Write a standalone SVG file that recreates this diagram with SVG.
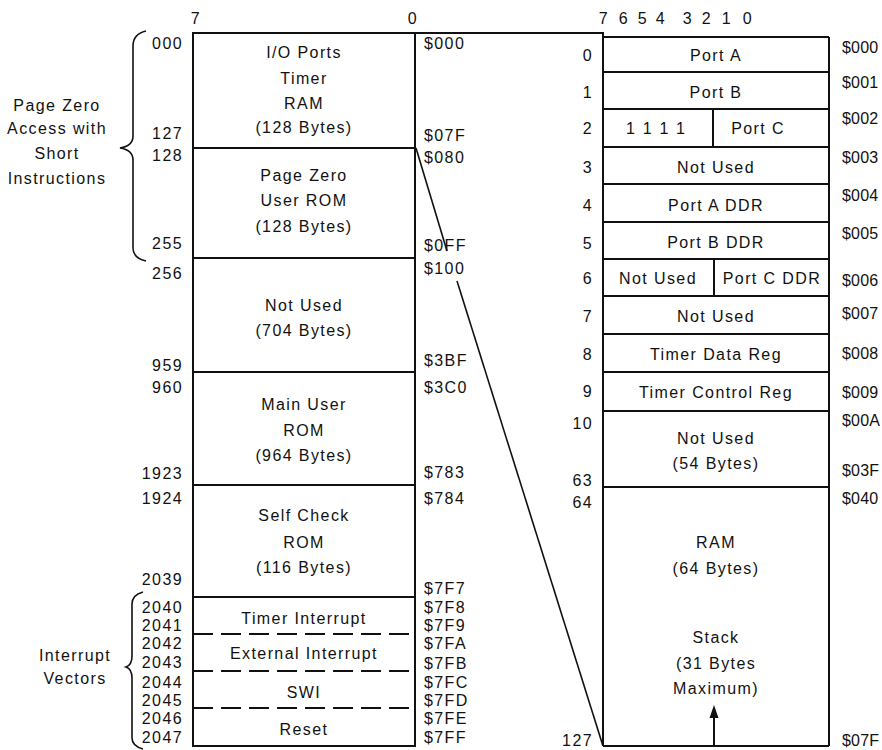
<svg xmlns="http://www.w3.org/2000/svg" width="882" height="750" viewBox="0 0 882 750">
<style>
text{font-family:"Liberation Sans",Arial,sans-serif;font-size:16px;letter-spacing:1.4px;fill:#111}
.c{text-anchor:middle}
.r{text-anchor:end}
.h{letter-spacing:0.2px}
.box{fill:#fff;stroke:#111;stroke-width:2}
.ln{stroke:#111;stroke-width:2;fill:none}
.thin{stroke:#111;stroke-width:1.6;fill:none}
.dash{stroke:#111;stroke-width:2;stroke-dasharray:20 8;fill:none}
</style>
<rect width="882" height="750" fill="#fff"/>

<!-- bit labels -->
<g id="bits">
<text x="196" y="24" class="c">7</text>
<text x="413" y="24" class="c">0</text>
<text x="604" y="24" class="c">7</text>
<text x="624" y="24" class="c">6</text>
<text x="643" y="24" class="c">5</text>
<text x="661" y="24" class="c">4</text>
<text x="688" y="24" class="c">3</text>
<text x="707" y="24" class="c">2</text>
<text x="727" y="24" class="c">1</text>
<text x="748" y="24" class="c">0</text>
</g>

<!-- connectors -->
<g id="connectors">
<line class="ln" x1="193" y1="33" x2="604" y2="33"/>
<line class="thin" x1="416" y1="148" x2="447" y2="251"/>
<line class="thin" x1="457" y1="281" x2="603" y2="746"/>
</g>

<!-- left memory map -->
<g id="left-map">
<rect class="box" x="193" y="33" width="222" height="713"/>
<line class="ln" x1="193" y1="148" x2="415" y2="148"/>
<line class="ln" x1="193" y1="258" x2="415" y2="258"/>
<line class="ln" x1="193" y1="372" x2="415" y2="372"/>
<line class="ln" x1="193" y1="485" x2="415" y2="485"/>
<line class="ln" x1="193" y1="597" x2="415" y2="597"/>
<line class="dash" x1="193" y1="634" x2="415" y2="634"/>
<line class="dash" x1="193" y1="671" x2="415" y2="671"/>
<line class="dash" x1="193" y1="708" x2="415" y2="708"/>
</g>
<g id="io-timer-ram">
<text x="304" y="58" class="c">I/O Ports</text>
<text x="304" y="84" class="c">Timer</text>
<text x="304" y="109" class="c">RAM</text>
<text x="304" y="133" class="c">(128 Bytes)</text>
</g>
<g id="page-zero-rom">
<text x="304" y="181" class="c">Page Zero</text>
<text x="304" y="206" class="c">User ROM</text>
<text x="304" y="232" class="c">(128 Bytes)</text>
</g>
<g id="not-used-704">
<text x="304" y="311" class="c">Not Used</text>
<text x="304" y="336" class="c">(704 Bytes)</text>
</g>
<g id="main-user-rom">
<text x="304" y="410" class="c">Main User</text>
<text x="304" y="436" class="c">ROM</text>
<text x="304" y="461" class="c">(964 Bytes)</text>
</g>
<g id="self-check-rom">
<text x="304" y="521" class="c">Self Check</text>
<text x="304" y="548" class="c">ROM</text>
<text x="304" y="573" class="c">(116 Bytes)</text>
</g>
<g id="vec-timer"><text x="304" y="624" class="c">Timer Interrupt</text></g>
<g id="vec-external"><text x="304" y="659" class="c">External Interrupt</text></g>
<g id="vec-swi"><text x="304" y="698" class="c">SWI</text></g>
<g id="vec-reset"><text x="304" y="735" class="c">Reset</text></g>

<!-- left decimal addresses -->
<g id="left-dec">
<text x="183" y="49" class="r">000</text>
<text x="183" y="139" class="r">127</text>
<text x="183" y="161" class="r">128</text>
<text x="183" y="249" class="r">255</text>
<text x="183" y="279" class="r">256</text>
<text x="183" y="371" class="r">959</text>
<text x="183" y="393" class="r">960</text>
<text x="183" y="479" class="r">1923</text>
<text x="183" y="504" class="r">1924</text>
<text x="183" y="585" class="r">2039</text>
<text x="183" y="613" class="r">2040</text>
<text x="183" y="631" class="r">2041</text>
<text x="183" y="649" class="r">2042</text>
<text x="183" y="668" class="r">2043</text>
<text x="183" y="688" class="r">2044</text>
<text x="183" y="706" class="r">2045</text>
<text x="183" y="724" class="r">2046</text>
<text x="183" y="743" class="r">2047</text>
</g>
<!-- left hex addresses -->
<g id="left-hex">
<text x="424" y="49">$000</text>
<text x="424" y="141">$07F</text>
<text x="424" y="163">$080</text>
<text x="424" y="251">$0FF</text>
<text x="424" y="274">$100</text>
<text x="424" y="366">$3BF</text>
<text x="424" y="393">$3C0</text>
<text x="424" y="478">$783</text>
<text x="424" y="504">$784</text>
<text x="424" y="594">$7F7</text>
<text x="424" y="613">$7F8</text>
<text x="424" y="631">$7F9</text>
<text x="424" y="649">$7FA</text>
<text x="424" y="669">$7FB</text>
<text x="424" y="688">$7FC</text>
<text x="424" y="706">$7FD</text>
<text x="424" y="724">$7FE</text>
<text x="424" y="743">$7FF</text>
</g>

<!-- braces -->
<g id="brace-page-zero">
<path class="thin" d="M146,31 Q133,34 133,46 L133,136 Q133,146 120,148 Q133,150 133,160 L133,248 Q133,258 146,261"/>
<text x="57" y="111" class="c">Page Zero</text>
<text x="57" y="134" class="c">Access with</text>
<text x="57" y="159" class="c">Short</text>
<text x="57" y="184" class="c">Instructions</text>
</g>
<g id="brace-vectors">
<path class="thin" d="M143,592 Q132,595 132,604 L132,656 Q132,665 126,667 Q132,669 132,678 L132,738 Q132,746 143,749"/>
<text x="75" y="661" class="c">Interrupt</text>
<text x="75" y="684" class="c">Vectors</text>
</g>

<!-- right register map -->
<g id="right-map">
<line class="ln" x1="603" y1="33" x2="603" y2="746"/>
<line class="ln" x1="603" y1="37" x2="829" y2="37"/>
<line class="ln" x1="829" y1="37" x2="829" y2="746"/>
<line class="ln" x1="603" y1="746" x2="829" y2="746"/>
<line class="ln" x1="603" y1="72" x2="829" y2="72"/>
<line class="ln" x1="603" y1="109" x2="829" y2="109"/>
<line class="ln" x1="603" y1="147" x2="829" y2="147"/>
<line class="ln" x1="603" y1="184" x2="829" y2="184"/>
<line class="ln" x1="603" y1="222" x2="829" y2="222"/>
<line class="ln" x1="603" y1="259" x2="829" y2="259"/>
<line class="ln" x1="603" y1="296" x2="829" y2="296"/>
<line class="ln" x1="603" y1="334" x2="829" y2="334"/>
<line class="ln" x1="603" y1="372" x2="829" y2="372"/>
<line class="ln" x1="603" y1="411" x2="829" y2="411"/>
<line class="ln" x1="603" y1="487" x2="829" y2="487"/>
<line class="ln" x1="713" y1="109" x2="713" y2="147"/>
<line class="ln" x1="714" y1="259" x2="714" y2="296"/>
</g>
<g id="port-a"><text x="716" y="61" class="c">Port A</text></g>
<g id="port-b"><text x="716" y="98" class="c">Port B</text></g>
<g id="port-c"><text x="660" y="134" class="c" style="letter-spacing:9px">1111</text><text x="758" y="134" class="c">Port C</text></g>
<g id="not-used-3"><text x="716" y="173" class="c">Not Used</text></g>
<g id="port-a-ddr"><text x="716" y="211" class="c">Port A DDR</text></g>
<g id="port-b-ddr"><text x="716" y="248" class="c">Port B DDR</text></g>
<g id="port-c-ddr"><text x="658" y="284" class="c">Not Used</text><text x="772" y="284" class="c">Port C DDR</text></g>
<g id="not-used-7"><text x="716" y="322" class="c">Not Used</text></g>
<g id="timer-data"><text x="716" y="360" class="c">Timer Data Reg</text></g>
<g id="timer-control"><text x="716" y="398" class="c">Timer Control Reg</text></g>
<g id="not-used-54"><text x="716" y="444" class="c">Not Used</text><text x="716" y="469" class="c">(54 Bytes)</text></g>
<g id="ram-stack">
<text x="716" y="548" class="c">RAM</text>
<text x="716" y="574" class="c">(64 Bytes)</text>
<text x="716" y="643" class="c">Stack</text>
<text x="716" y="669" class="c">(31 Bytes</text>
<text x="716" y="694" class="c">Maximum)</text>
<line class="ln" x1="714" y1="746" x2="714" y2="714"/>
<polygon points="714,705 709.5,718 718.5,718" fill="#111"/>
</g>

<!-- right row numbers -->
<g id="right-dec">
<text x="593" y="61" class="r">0</text>
<text x="593" y="98" class="r">1</text>
<text x="593" y="134" class="r">2</text>
<text x="593" y="173" class="r">3</text>
<text x="593" y="211" class="r">4</text>
<text x="593" y="249" class="r">5</text>
<text x="593" y="284" class="r">6</text>
<text x="593" y="322" class="r">7</text>
<text x="593" y="360" class="r">8</text>
<text x="593" y="397" class="r">9</text>
<text x="593" y="429" class="r">10</text>
<text x="593" y="486" class="r">63</text>
<text x="593" y="508" class="r">64</text>
<text x="593" y="746" class="r">127</text>
</g>
<!-- right hex addresses -->
<g id="right-hex">
<text x="842" y="53" class="h">$000</text>
<text x="842" y="88" class="h">$001</text>
<text x="842" y="124" class="h">$002</text>
<text x="842" y="163" class="h">$003</text>
<text x="842" y="201" class="h">$004</text>
<text x="842" y="239" class="h">$005</text>
<text x="842" y="286" class="h">$006</text>
<text x="842" y="319" class="h">$007</text>
<text x="842" y="359" class="h">$008</text>
<text x="842" y="398" class="h">$009</text>
<text x="842" y="426" class="h">$00A</text>
<text x="842" y="476" class="h">$03F</text>
<text x="842" y="504" class="h">$040</text>
<text x="842" y="746" class="h">$07F</text>
</g>
</svg>
